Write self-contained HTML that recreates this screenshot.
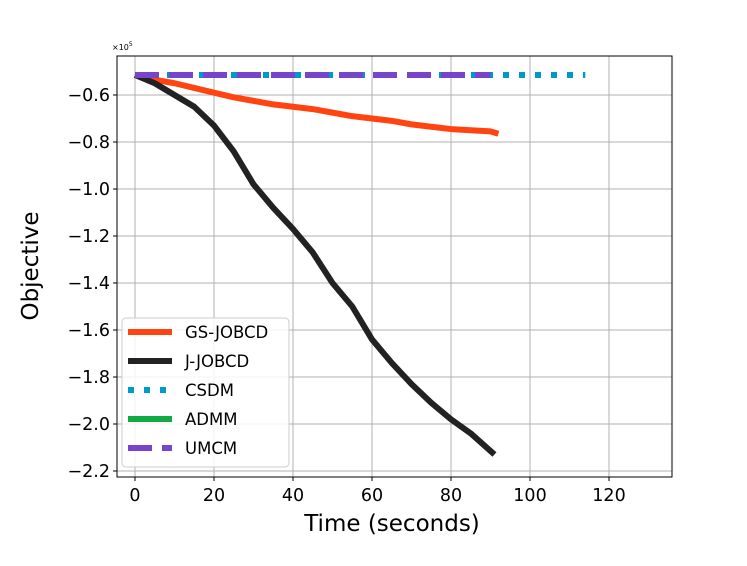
<!DOCTYPE html>
<html><head><meta charset="utf-8"><style>
body{margin:0;background:#fff;font-family:"Liberation Sans","DejaVu Sans",sans-serif}
</style></head><body>
<svg id="chart" width="747" height="561" xmlns="http://www.w3.org/2000/svg" font-family="DejaVu Sans, Liberation Sans, sans-serif">
<g id="grid"></g>
<g id="series"></g>
<rect x="117" y="56" width="555" height="421" fill="none" stroke="#000" stroke-width="1"/>
<g id="ticks"></g>
<text x="112" y="50" font-size="8">×10<tspan font-size="6" dy="-4">5</tspan></text>
<text x="392" y="531" font-size="23" text-anchor="middle">Time (seconds)</text>
<text transform="translate(38,266) rotate(-90)" font-size="23" text-anchor="middle">Objective</text>
<g id="legend"></g>
</svg>
<script>
const xTicks=[0,20,40,60,80,100,120];
const yTicks=[-0.6,-0.8,-1.0,-1.2,-1.4,-1.6,-1.8,-2.0,-2.2];
const gsT=[0,5,10,15,20,25,30,35,40,45,50,55,60,65,70,75,80,85,90,92];
const gsV=[-0.515,-0.535,-0.55,-0.57,-0.59,-0.61,-0.625,-0.64,-0.65,-0.66,-0.675,-0.69,-0.70,-0.71,-0.725,-0.735,-0.745,-0.75,-0.755,-0.765];
const jT=[0,5,10,15,20,25,30,35,40,45,50,55,60,65,70,75,80,85,91];
const jV=[-0.515,-0.55,-0.60,-0.65,-0.73,-0.84,-0.98,-1.08,-1.17,-1.27,-1.40,-1.50,-1.64,-1.74,-1.83,-1.91,-1.98,-2.04,-2.13];
const csdmT=[0,114];const csdmV=[-0.515,-0.515];
const admmT=[0,0.5];const admmV=[-0.515,-0.515];
const umcmT=[0,90];const umcmV=[-0.515,-0.515];
const X=v=>135+v*3.95, Y=v=>95+(-0.6-v)*235;
const NS="http://www.w3.org/2000/svg";
function mk(t,a,p){const e=document.createElementNS(NS,t);for(const k in a)e.setAttribute(k,a[k]);p.appendChild(e);return e;}
const grid=document.getElementById('grid'),ticks=document.getElementById('ticks'),ser=document.getElementById('series'),leg=document.getElementById('legend');
xTicks.forEach(t=>{const x=X(t);
const g=mk('line',{x1:x,x2:x,y1:56,y2:477,stroke:'#b0b0b0','stroke-width':1},grid);


mk('line',{x1:x,x2:x,y1:477,y2:481,stroke:'#000'},ticks);
const l=mk('text',{x:x,y:501,'font-size':17.5,'text-anchor':'middle'},ticks);l.textContent=t;

});
yTicks.forEach(t=>{const y=Y(t);
const g=mk('line',{x1:117,x2:672,y1:y,y2:y,stroke:'#b0b0b0','stroke-width':1},grid);


mk('line',{x1:113,x2:117,y1:y,y2:y,stroke:'#000'},ticks);
const l=mk('text',{x:110,y:y+6,'font-size':17.5,'text-anchor':'end'},ticks);l.textContent='\u2212'+Math.abs(t).toFixed(1);

});
function line(T,V,col,dash,name){const d=T.map((t,i)=>(i?'L':'M')+X(t)+','+Y(V[i])).join('');
const p=mk('path',{d:d,fill:'none',stroke:col,'stroke-width':6,'stroke-dasharray':dash||'none','stroke-linejoin':'round'},ser);

}
line(gsT,gsV,'#ff4411','','gs-jobcd-line');
line(jT,jV,'#222222','','j-jobcd-line');
line(admmT,admmV,'#11aa44','','admm-line');
line(csdmT,csdmV,'#0099cc','6,10','csdm-line');
line(umcmT,umcmV,'#7744cc','24,10','umcm-line');
mk('rect',{x:122,y:318,width:167,height:149,rx:4,fill:'#fff','fill-opacity':0.85,stroke:'#ccc'},leg);
[['GS-JOBCD','#ff4411','none'],['J-JOBCD','#222222','none'],['CSDM','#0099cc','6,10'],['ADMM','#11aa44','none'],['UMCM','#7744cc','24,10']].forEach((e,i)=>{
const y=332+i*29;const g=mk('g',{},leg);


mk('line',{x1:128,x2:172,y1:y,y2:y,stroke:e[1],'stroke-width':6,'stroke-dasharray':e[2]},g);
const t=mk('text',{x:185,y:y+6,'font-size':16.5},g);t.textContent=e[0];});
</script>
</body></html>
